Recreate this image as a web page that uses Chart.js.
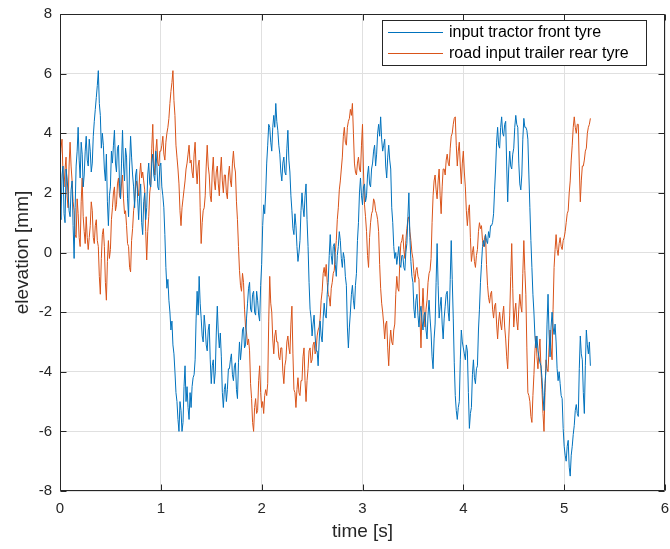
<!DOCTYPE html>
<html>
<head>
<meta charset="utf-8">
<script src="https://cdn.jsdelivr.net/npm/chart.js@4/dist/chart.umd.min.js"></script>
<style>
  html, body { margin: 0; padding: 0; background: #fff; }
  #wrap { width: 670px; height: 549px; }
</style>
</head>
<body>
<div id="wrap"><canvas id="c" width="670" height="549"></canvas></div>
<script>
// Sampling interval of the recorded road profiles [s]
const sampleStep = 0.01;

// Elevation under the tractor front tyre [mm]
const tractorFront = [
  1.7, 1.1, 2.6, 2.9, 1.3, 1.0, 2.8, 2.5, 2.0, 1.4, 1.2, 2.1, 2.4, 0.9, -0.2, 1.5, 2.9, 3.4, 4.2, 3.1,
  2.5, 3.7, 3.3, 2.2, 2.6, 3.4, 3.9, 3.1, 2.9, 3.8, 3.4, 2.7, 3.0, 3.9, 4.4, 4.8, 5.2, 5.6, 6.1, 5.0,
  4.6, 3.5, 4.0, 3.6, 2.8, 2.4, 3.3, 1.7, 0.9, 1.9, 2.2, 3.4, 3.0, 3.6, 4.1, 3.0, 2.7, 3.5, 3.6, 2.3,
  1.8, 3.0, 4.1, 2.9, 2.4, 3.5, 3.2, 1.8, 1.2, 2.9, 3.9, 3.2, 2.6, 2.2, 1.5, 2.6, 2.8, 1.8, 1.1, 1.9,
  2.3, 1.0, 0.6, 1.7, 2.0, 1.1, 1.5, 2.6, 3.0, 2.3, 2.2, 3.0, 3.3, 2.6, 2.4, 3.4, 3.0, 2.2, 2.1, 2.9,
  3.0, 2.2, 1.9, 1.5, 0.6, -0.5, -1.2, -0.9, -1.6, -2.0, -2.6, -2.3, -3.1, -3.4, -4.0, -4.7, -5.0, -5.6, -6.0, -5.0,
  -5.3, -6.0, -5.7, -4.5, -3.8, -5.0, -4.5, -5.2, -5.6, -4.7, -5.2, -4.5, -4.2, -4.1, -3.6, -2.2, -1.3, -2.1, -0.8, -1.7,
  -2.2, -2.8, -3.0, -2.1, -2.5, -3.1, -3.3, -2.6, -2.4, -3.6, -4.4, -3.8, -3.6, -4.4, -4.0, -2.7, -1.8, -2.7, -3.2, -2.7,
  -3.5, -4.7, -5.2, -4.6, -4.4, -5.0, -4.6, -3.9, -3.9, -3.6, -3.4, -4.1, -4.3, -3.8, -3.7, -4.6, -4.9, -3.7, -3.0, -3.6,
  -3.2, -2.6, -2.5, -3.2, -3.1, -2.2, -1.7, -1.2, -1.0, -1.9, -2.0, -1.4, -1.3, -2.0, -2.1, -1.3, -1.6, -2.1, -2.3, -1.1,
  -0.4, 0.9, 1.6, 1.3, 2.0, 3.0, 3.6, 4.3, 4.2, 3.7, 3.4, 4.2, 4.6, 4.2, 5.0, 4.4, 4.1, 3.6, 3.3, 2.7,
  2.4, 3.0, 3.2, 2.7, 2.6, 3.5, 4.1, 3.1, 2.7, 1.9, 1.4, 0.8, 0.6, 1.3, 0.9, 0.2, -0.3, 0.0, 0.4, 1.4,
  2.0, 1.5, 1.2, 1.9, 2.3, 1.1, 0.2, -1.0, -1.9, -2.2, -2.8, -2.4, -2.1, -2.8, -3.3, -3.3, -3.8, -3.0, -2.3, -2.8,
  -3.0, -2.2, -1.7, -2.1, -2.2, -1.4, -1.0, -0.1, 0.6, -0.1, -0.4, 0.2, 0.3, -0.4, -0.8, -0.1, 0.2, 0.7, 0.4, -0.2,
  -0.5, 0.0, -0.2, -0.8, -1.1, -2.5, -3.2, -2.5, -2.0, -1.4, -1.1, -1.6, -1.9, -1.1, -0.7, 0.4, 1.0, 2.0, 2.5, 1.9,
  1.6, 2.2, 2.3, 1.7, 1.9, 2.6, 2.9, 2.3, 2.2, 2.8, 3.0, 3.4, 3.6, 2.9, 3.3, 4.0, 4.3, 3.9, 4.55, 3.8,
  3.4, 3.6, 3.8, 2.9, 2.5, 3.2, 3.6, 3.1, 2.8, 1.5, 1.0, 0.2, -0.2, 0.0, -0.4, -0.1, 0.2, -0.4, -0.5, -0.1,
  -0.1, -0.5, -0.6, 0.0, 0.3, 1.2, 2.0, 0.5, -0.3, -0.8, -1.0, -1.9, -2.2, -1.6, -1.4, -2.1, -2.5, -2.0, -1.8, -2.3,
  -2.6, -2.1, -2.0, -2.6, -2.9, -2.1, -1.6, -2.2, -2.7, -3.5, -3.9, -2.9, -2.4, -1.0, 0.3, -1.1, -2.2, -1.8, -1.5, -2.4,
  -2.9, -2.2, -1.8, -1.4, -1.3, -2.0, -2.3, -0.9, 0.4, -0.9, -2.2, -3.7, -4.8, -5.3, -5.6, -5.2, -5.0, -3.6, -2.6, -3.0,
  -3.2, -3.4, -3.6, -3.1, -3.3, -4.7, -5.9, -5.4, -5.2, -4.1, -3.6, -4.2, -4.4, -3.9, -3.8, -2.6, -1.9, -1.0, -0.4, 0.2,
  0.4, 0.2, 0.6, 0.4, 0.3, 0.7, 0.5, 0.9, 0.9, 1.0, 1.3, 2.1, 2.8, 3.7, 4.2, 3.6, 3.5, 4.2, 4.55, 4.0,
  3.9, 4.3, 4.4, 2.9, 1.7, 2.8, 3.4, 2.9, 2.8, 3.3, 3.5, 4.2, 4.6, 4.3, 4.2, 3.0, 2.3, 2.1, 2.6, 3.8,
  4.5, 4.2, 4.2, 4.1, 3.8, 2.6, 1.5, 0.4, -0.5, -1.4, -2.0, -2.8, -3.2, -2.8, -3.3, -3.5, -3.7, -3.8, -4.2, -4.8,
  -5.3, -4.4, -3.9, -2.4, -1.4, -2.7, -3.5, -2.5, -2.0, -2.5, -2.75, -2.4, -3.0, -3.9, -4.3, -4.0, -4.4, -4.8, -4.9, -5.9,
  -6.5, -6.8, -7.0, -6.5, -6.3, -7.2, -7.5, -6.8, -6.5, -6.1, -5.8, -5.3, -5.1, -5.4, -5.5, -3.9, -2.8, -3.4, -3.6, -4.7,
  -5.4, -3.8, -2.6, -3.1, -3.4, -3.0, -3.8
];

// Elevation under the trailer rear tyre [mm]
const trailerRear = [
  3.0, 3.5, 3.8, 2.6, 2.2, 2.8, 3.2, 1.9, 1.5, 2.9, 3.7, 2.9, 2.4, 1.7, 1.4, 0.6, 0.5, 1.8, 1.3, 0.5,
  0.2, 1.7, 2.5, 1.2, 0.7, 0.3, 1.2, 0.5, 0.1, 0.5, 0.9, 1.7, 1.4, 0.5, 0.3, 0.9, 1.1, 0.4, 0.2, -0.8,
  -1.4, -0.2, 0.6, 0.8, 0.2, -1.0, -1.6, -0.3, 0.4, -0.2, 0.1, 1.1, 1.5, 2.0, 2.2, 1.4, 1.6, 2.3, 2.5, 1.9,
  1.8, 2.3, 2.6, 1.8, 1.3, 1.4, 0.9, 0.3, 0.2, -0.5, -0.65, 0.4, 0.8, 1.4, 1.7, 2.2, 2.4, 2.1, 1.9, 2.6,
  3.0, 2.5, 2.7, 2.4, 2.1, 0.7, -0.25, 0.7, 1.2, 2.0, 2.3, 3.5, 4.3, 3.0, 2.6, 3.4, 3.8, 3.0, 2.9, 3.4,
  3.4, 3.6, 3.9, 3.3, 3.1, 3.7, 4.0, 4.2, 4.5, 5.0, 5.4, 5.7, 6.1, 5.1, 4.6, 3.6, 3.2, 2.8, 2.3, 1.4,
  0.9, 1.5, 1.8, 2.1, 2.4, 2.8, 3.0, 3.3, 3.6, 3.0, 3.1, 2.7, 2.5, 3.3, 3.7, 2.8, 2.3, 2.9, 3.1, 1.5,
  0.3, 1.0, 1.4, 1.5, 1.9, 2.9, 3.6, 2.9, 2.6, 1.9, 1.7, 2.7, 3.2, 2.4, 2.1, 2.7, 2.9, 2.3, 1.9, 2.7,
  3.2, 2.4, 2.0, 2.6, 2.6, 2.0, 1.8, 2.6, 2.9, 2.4, 2.2, 3.0, 3.4, 2.9, 2.7, 1.7, 1.1, 0.2, -0.6, -1.1,
  -1.3, -0.7, -1.0, -1.9, -2.5, -2.7, -3.1, -2.9, -3.3, -4.4, -4.9, -5.7, -6.0, -5.2, -4.9, -5.4, -5.3, -4.3, -3.8, -4.7,
  -5.2, -5.0, -5.4, -4.8, -4.6, -4.8, -4.4, -2.3, -0.8, -1.7, -2.0, -2.9, -3.4, -2.8, -2.6, -3.0, -3.0, -3.5, -3.6, -3.2,
  -3.2, -4.0, -4.4, -3.8, -3.6, -3.0, -2.8, -3.2, -3.4, -2.4, -1.8, -3.4, -4.6, -4.7, -5.2, -4.6, -4.2, -4.7, -4.8, -4.3,
  -4.3, -3.5, -3.2, -4.3, -5.0, -4.3, -3.9, -3.3, -3.2, -3.7, -3.6, -3.1, -3.0, -3.4, -3.3, -2.8, -2.6, -2.5, -2.2, -1.6,
  -1.3, -0.7, -0.5, -0.8, -0.4, -1.0, -1.4, -1.5, -1.8, -1.2, -1.0, -0.7, -0.6, 0.0, 0.4, 1.1, 1.5, 2.1, 2.4, 2.8,
  3.2, 3.9, 4.2, 3.7, 3.6, 4.2, 4.4, 4.5, 4.8, 4.6, 5.0, 4.0, 3.0, 2.7, 2.6, 3.0, 3.2, 2.8, 2.7, 3.6,
  4.3, 2.7, 1.6, 1.2, 0.7, -0.1, -0.5, 0.5, 1.0, 1.3, 1.4, 1.8, 1.7, 1.4, 1.3, 1.1, 0.7, -0.4, -1.2, -1.7,
  -2.0, -2.4, -2.9, -2.4, -2.3, -3.2, -3.8, -3.0, -2.6, -3.0, -3.1, -2.6, -2.4, -1.4, -0.8, -1.2, -1.3, -0.3, 0.3, 0.4,
  0.6, 0.1, -0.2, 0.4, 0.8, 1.1, 1.2, 0.7, 0.4, 0.0, -0.2, -0.7, -1.0, -0.6, -0.5, -0.8, -0.9, -2.2, -3.2, -2.0,
  -1.2, -2.0, -2.5, -1.9, -1.6, -1.0, -0.7, -0.6, -0.2, 1.0, 1.9, 2.4, 2.6, 2.1, 1.8, 2.4, 2.8, 1.9, 1.3, 2.2,
  2.8, 2.8, 2.6, 3.1, 3.3, 3.0, 2.9, 3.5, 3.9, 4.0, 4.3, 4.5, 4.55, 3.6, 2.9, 3.4, 3.7, 2.9, 2.3, 3.0,
  3.4, 2.7, 2.2, 1.4, 0.9, 1.4, 1.6, 0.5, -0.3, 0.0, 0.2, -0.3, -0.5, -0.1, 0.1, 0.7, 1.0, 0.8, 0.9, 0.4,
  0.2, 0.5, 0.6, -0.4, -1.1, -1.5, -1.7, -1.4, -1.3, -1.9, -2.2, -1.8, -1.7, -2.4, -2.9, -2.3, -2.0, -2.4, -2.6, -2.1,
  -1.8, -2.5, -2.9, -3.5, -3.9, -2.9, -2.1, -0.8, 0.3, -1.2, -2.5, -2.0, -1.7, -2.3, -2.6, -1.9, -1.4, -1.8, -2.0, -0.7,
  0.4, -0.6, -1.4, -3.2, -4.7, -4.8, -5.0, -5.5, -5.7, -4.8, -4.1, -3.3, -2.8, -3.5, -3.9, -3.3, -2.9, -3.9, -4.6, -5.4,
  -6.0, -4.7, -3.6, -3.9, -4.0, -3.2, -2.6, -3.2, -3.6, -1.9, -0.5, 0.1, 0.6, 0.1, -0.1, 0.3, 0.5, 0.2, 0.1, 0.4,
  0.5, 0.7, 1.0, 1.3, 1.4, 2.0, 2.4, 3.1, 3.6, 4.2, 4.55, 4.2, 4.0, 4.3, 4.3, 2.9, 1.7, 2.4, 2.9, 2.9,
  3.1, 3.4, 3.5, 4.0, 4.2, 4.3, 4.5
];

// Axis ranges and tick values
const timeTicks = [0, 1, 2, 3, 4, 5, 6];
const elevationTicks = [-8, -6, -4, -2, 0, 2, 4, 6, 8];

const seriesLabels = ['input tractor front tyre', 'road input trailer rear tyre'];
const seriesColors = ['#0072BD', '#D95319'];

const toPoints = arr => arr.map((v, i) => ({ x: i * sampleStep, y: v }));

const axisColor = '#262626';
const gridColor = '#e0e0e0';
const fontFamily = '"Liberation Sans", Arial, Helvetica, sans-serif';

// Box outline, inward tick marks on all four sides, and the legend
const boxPlugin = {
  id: 'boxAxes',
  afterDraw(chart) {
    const { ctx, chartArea: a, scales } = chart;
    const L = Math.round(a.left) + 0.5, R = Math.round(a.right) - 0.5;
    const T = Math.round(a.top) + 0.5, B = Math.round(a.bottom) - 0.5;
    const tl = 6;
    ctx.save();
    ctx.strokeStyle = axisColor;
    ctx.lineWidth = 1;
    ctx.beginPath();
    ctx.rect(L, T, R - L, B - T);
    timeTicks.forEach(v => {
      const px = Math.round(scales.x.getPixelForValue(v)) + 0.5;
      ctx.moveTo(px, B); ctx.lineTo(px, B - tl);
      ctx.moveTo(px, T); ctx.lineTo(px, T + tl);
    });
    elevationTicks.forEach(v => {
      const py = Math.round(scales.y.getPixelForValue(v)) + 0.5;
      ctx.moveTo(L, py); ctx.lineTo(L + tl, py);
      ctx.moveTo(R, py); ctx.lineTo(R - tl, py);
    });
    ctx.stroke();

    // legend box
    const lx = 382.5, ly = 20.5, lw = 264, lh = 45;
    ctx.fillStyle = '#ffffff';
    ctx.fillRect(lx, ly, lw, lh);
    ctx.strokeStyle = axisColor;
    ctx.strokeRect(lx, ly, lw, lh);
    ctx.font = '16px ' + fontFamily;
    ctx.textBaseline = 'middle';
    ctx.textAlign = 'left';
    chart.data.datasets.forEach((ds, i) => {
      const yy = 32.5 + i * 21;
      ctx.strokeStyle = ds.borderColor;
      ctx.lineWidth = 1;
      ctx.beginPath();
      ctx.moveTo(388, yy); ctx.lineTo(443, yy);
      ctx.stroke();
      ctx.fillStyle = '#000000';
      ctx.fillText(ds.label, 449, yy + 0.5);
    });
    ctx.restore();
  }
};

new Chart(document.getElementById('c'), {
  type: 'line',
  data: {
    datasets: [
      { label: seriesLabels[0], data: toPoints(tractorFront), borderColor: seriesColors[0] },
      { label: seriesLabels[1], data: toPoints(trailerRear), borderColor: seriesColors[1] }
    ]
  },
  options: {
    responsive: false,
    animation: false,
    devicePixelRatio: 1,
    layout: { padding: { top: 14, right: 5, left: 0, bottom: 0 } },
    elements: {
      line: { borderWidth: 1, tension: 0 },
      point: { radius: 0 }
    },
    plugins: {
      legend: { display: false },
      tooltip: { enabled: false }
    },
    scales: {
      x: {
        type: 'linear',
        min: 0, max: 6,
        afterFit(s) { s.height = 58; s.paddingLeft = 0; s.paddingRight = 0; },
        afterBuildTicks(s) { s.ticks = timeTicks.map(v => ({ value: v })); },
        grid: { color: gridColor, drawTicks: false },
        border: { display: false },
        ticks: { color: axisColor, padding: 9, maxRotation: 0, font: { family: fontFamily, size: 15 } },
        title: {
          display: true, text: 'time [s]', color: axisColor,
          padding: { top: 0, bottom: 6 },
          font: { family: fontFamily, size: 19 }
        }
      },
      y: {
        type: 'linear',
        min: -8, max: 8,
        afterFit(s) { s.width = 60; s.paddingTop = 0; s.paddingBottom = 0; },
        afterBuildTicks(s) { s.ticks = elevationTicks.map(v => ({ value: v })); },
        grid: { color: gridColor, drawTicks: false },
        border: { display: false },
        ticks: { color: axisColor, padding: 8, font: { family: fontFamily, size: 15 } },
        title: {
          display: true, text: 'elevation [mm]', color: axisColor,
          padding: { top: 11, bottom: 0 },
          font: { family: fontFamily, size: 19 }
        }
      }
    }
  },
  plugins: [boxPlugin]
});
</script>
</body>
</html>
